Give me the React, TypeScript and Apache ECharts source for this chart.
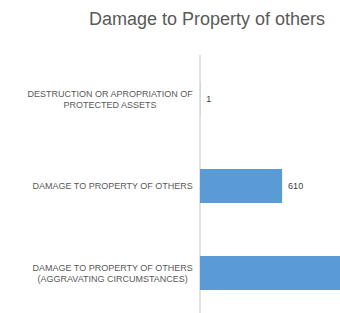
import React, { useEffect, useRef } from "react";
import * as echarts from "echarts";

const titleText = "Damage to Property of others";
const categories = [
  "DESTRUCTION OR APROPRIATION OF\nPROTECTED ASSETS",
  "DAMAGE TO PROPERTY OF OTHERS",
  "DAMAGE TO PROPERTY OF OTHERS\n(AGGRAVATING CIRCUMSTANCES)",
];
const values = [1, 610, 1150];
const axisMax = 1040;

export default function App() {
  const ref = useRef<HTMLDivElement>(null);
  useEffect(() => {
    if (!ref.current) return;
    const chart = echarts.init(ref.current, undefined, { renderer: "svg" });
    chart.setOption({
      animation: false,
      backgroundColor: "#ffffff",
      title: {
        text: titleText,
        left: 202,
        textAlign: "center",
        top: 5,
        textStyle: {
          fontFamily: "Liberation Sans, Arial, sans-serif",
          fontSize: 18,
          fontWeight: "normal",
          color: "#595959",
        },
      },
      grid: {
        left: 200,
        right: 0,
        top: 55.5,
        bottom: -3.5,
        containLabel: false,
        outerBoundsMode: "none",
      },
      xAxis: {
        type: "value",
        min: 0,
        max: axisMax,
        show: false,
        splitLine: { show: false },
      },
      yAxis: {
        type: "category",
        inverse: true,
        data: categories,
        axisLine: { show: true, lineStyle: { color: "#d9d9d9", width: 1.5 } },
        axisTick: { show: false },
        splitLine: { show: false },
        axisLabel: {
          margin: 7,
          formatter: (v: string) =>
            v
              .split("\n")
              .map((s) => `{a|${s}}`)
              .join("\n"),
          rich: {
            a: {
              align: "center",
              fontFamily: "Liberation Sans, Arial, sans-serif",
              fontSize: 9,
              color: "#595959",
              lineHeight: 11,
            },
          },
        },
      },
      series: [
        {
          type: "bar",
          data: values.map((v) => ({
            value: v,
            label: { show: v <= axisMax },
          })),
          barWidth: 34,
          clip: true,
          itemStyle: { color: "#5b9bd5" },
          label: {
            show: true,
            position: "right",
            distance: 6,
            fontFamily: "Liberation Sans, Arial, sans-serif",
            fontSize: 9,
            color: "#404040",
          },
        },
      ],
    });
    return () => chart.dispose();
  }, []);
  return (
    <div style={{ position: "fixed", left: 0, top: 0, width: 340, height: 313, overflow: "hidden", background: "#fff" }}>
      <div ref={ref} style={{ width: 340, height: 313 }} />
    </div>
  );
}
